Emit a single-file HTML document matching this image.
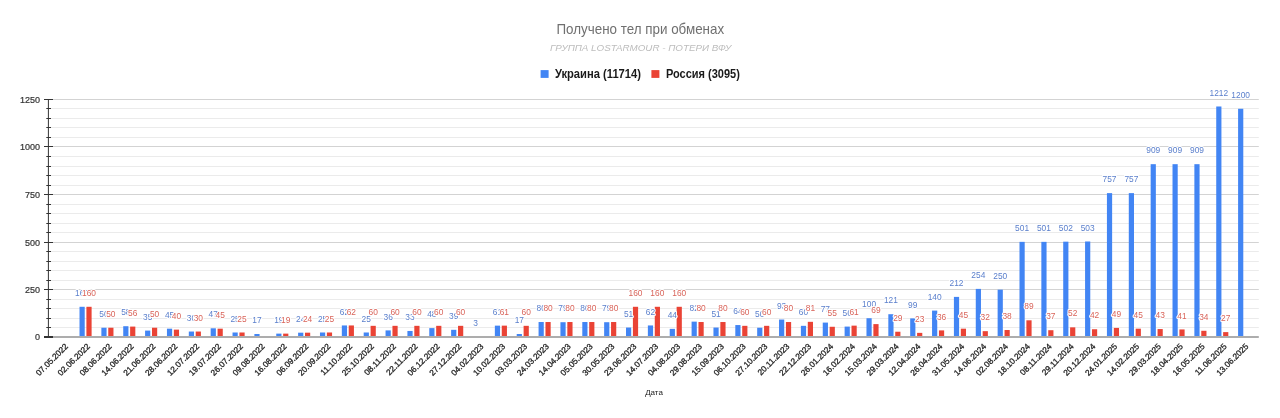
<!DOCTYPE html>
<html><head><meta charset="utf-8"><style>
html,body{margin:0;padding:0;background:#fff;}
body{width:1280px;height:418px;overflow:hidden;}
svg{display:block;will-change:transform;font-family:"Liberation Sans",sans-serif;}
.yl{font-size:9px;fill:#333;stroke:#333;stroke-width:0.2px;}
.xl{font-size:8.3px;fill:#262626;stroke:#262626;stroke-width:0.3px;}
.dl{font-size:8px;stroke:#fff;stroke-width:2px;paint-order:stroke;stroke-linejoin:round;}
</style></head><body>
<svg width="1280" height="418" viewBox="0 0 1280 418">
<rect width="1280" height="418" fill="#fff"/>
<text transform="translate(640.3,33.7) scale(1,1.06)" text-anchor="middle" font-size="13.4" fill="#707070">Получено тел при обменах</text>
<text x="640.6" y="51.2" text-anchor="middle" font-size="9.8" font-style="italic" fill="#bdbdbd">ГРУППА LOSTARMOUR - ПОТЕРИ ВФУ</text>
<rect x="540.6" y="70.1" width="8" height="7.8" fill="#4285f4"/>
<text transform="translate(554.9,77.9) scale(1,1.06)" font-size="11.2" font-weight="bold" fill="#1a1a1a">Украина (11714)</text>
<rect x="651.4" y="70.1" width="8" height="7.8" fill="#ea4335"/>
<text transform="translate(665.9,77.9) scale(0.985,1.06)" font-size="11.2" font-weight="bold" fill="#1a1a1a">Россия (3095)</text>
<text x="654" y="394.7" text-anchor="middle" font-size="8" fill="#222">Дата</text>
<line x1="48.4" x2="1258.8" y1="327.50" y2="327.50" stroke="#ebebeb" stroke-width="1"/>
<line x1="48.4" x2="1258.8" y1="318.50" y2="318.50" stroke="#ebebeb" stroke-width="1"/>
<line x1="48.4" x2="1258.8" y1="308.50" y2="308.50" stroke="#ebebeb" stroke-width="1"/>
<line x1="48.4" x2="1258.8" y1="299.50" y2="299.50" stroke="#ebebeb" stroke-width="1"/>
<line x1="48.4" x2="1258.8" y1="280.50" y2="280.50" stroke="#ebebeb" stroke-width="1"/>
<line x1="48.4" x2="1258.8" y1="270.50" y2="270.50" stroke="#ebebeb" stroke-width="1"/>
<line x1="48.4" x2="1258.8" y1="261.50" y2="261.50" stroke="#ebebeb" stroke-width="1"/>
<line x1="48.4" x2="1258.8" y1="251.50" y2="251.50" stroke="#ebebeb" stroke-width="1"/>
<line x1="48.4" x2="1258.8" y1="232.50" y2="232.50" stroke="#ebebeb" stroke-width="1"/>
<line x1="48.4" x2="1258.8" y1="223.50" y2="223.50" stroke="#ebebeb" stroke-width="1"/>
<line x1="48.4" x2="1258.8" y1="213.50" y2="213.50" stroke="#ebebeb" stroke-width="1"/>
<line x1="48.4" x2="1258.8" y1="204.50" y2="204.50" stroke="#ebebeb" stroke-width="1"/>
<line x1="48.4" x2="1258.8" y1="185.50" y2="185.50" stroke="#ebebeb" stroke-width="1"/>
<line x1="48.4" x2="1258.8" y1="175.50" y2="175.50" stroke="#ebebeb" stroke-width="1"/>
<line x1="48.4" x2="1258.8" y1="166.50" y2="166.50" stroke="#ebebeb" stroke-width="1"/>
<line x1="48.4" x2="1258.8" y1="156.50" y2="156.50" stroke="#ebebeb" stroke-width="1"/>
<line x1="48.4" x2="1258.8" y1="137.50" y2="137.50" stroke="#ebebeb" stroke-width="1"/>
<line x1="48.4" x2="1258.8" y1="127.50" y2="127.50" stroke="#ebebeb" stroke-width="1"/>
<line x1="48.4" x2="1258.8" y1="118.50" y2="118.50" stroke="#ebebeb" stroke-width="1"/>
<line x1="48.4" x2="1258.8" y1="108.50" y2="108.50" stroke="#ebebeb" stroke-width="1"/>
<line x1="48.4" x2="1258.8" y1="289.50" y2="289.50" stroke="#d3d3d3" stroke-width="1"/>
<line x1="48.4" x2="1258.8" y1="242.50" y2="242.50" stroke="#d3d3d3" stroke-width="1"/>
<line x1="48.4" x2="1258.8" y1="194.50" y2="194.50" stroke="#d3d3d3" stroke-width="1"/>
<line x1="48.4" x2="1258.8" y1="146.50" y2="146.50" stroke="#d3d3d3" stroke-width="1"/>
<line x1="48.4" x2="1258.8" y1="99.50" y2="99.50" stroke="#d3d3d3" stroke-width="1"/>
<rect x="79.51" y="306.79" width="5.2" height="30.46" fill="#4285f4"/>
<rect x="86.41" y="306.79" width="5.2" height="30.46" fill="#ea4335"/>
<rect x="101.37" y="327.73" width="5.2" height="9.52" fill="#4285f4"/>
<rect x="108.27" y="327.73" width="5.2" height="9.52" fill="#ea4335"/>
<rect x="123.23" y="326.21" width="5.2" height="11.04" fill="#4285f4"/>
<rect x="130.13" y="326.59" width="5.2" height="10.66" fill="#ea4335"/>
<rect x="145.09" y="330.59" width="5.2" height="6.66" fill="#4285f4"/>
<rect x="151.99" y="327.73" width="5.2" height="9.52" fill="#ea4335"/>
<rect x="166.95" y="328.68" width="5.2" height="8.57" fill="#4285f4"/>
<rect x="173.85" y="329.63" width="5.2" height="7.62" fill="#ea4335"/>
<rect x="188.81" y="331.54" width="5.2" height="5.71" fill="#4285f4"/>
<rect x="195.71" y="331.54" width="5.2" height="5.71" fill="#ea4335"/>
<rect x="210.67" y="328.30" width="5.2" height="8.95" fill="#4285f4"/>
<rect x="217.57" y="328.68" width="5.2" height="8.57" fill="#ea4335"/>
<rect x="232.53" y="332.49" width="5.2" height="4.76" fill="#4285f4"/>
<rect x="239.43" y="332.49" width="5.2" height="4.76" fill="#ea4335"/>
<rect x="254.39" y="334.01" width="5.2" height="3.24" fill="#4285f4"/>
<rect x="276.25" y="333.63" width="5.2" height="3.62" fill="#4285f4"/>
<rect x="283.15" y="333.63" width="5.2" height="3.62" fill="#ea4335"/>
<rect x="298.11" y="332.68" width="5.2" height="4.57" fill="#4285f4"/>
<rect x="305.01" y="332.68" width="5.2" height="4.57" fill="#ea4335"/>
<rect x="319.97" y="332.49" width="5.2" height="4.76" fill="#4285f4"/>
<rect x="326.87" y="332.49" width="5.2" height="4.76" fill="#ea4335"/>
<rect x="341.83" y="325.45" width="5.2" height="11.80" fill="#4285f4"/>
<rect x="348.73" y="325.45" width="5.2" height="11.80" fill="#ea4335"/>
<rect x="363.69" y="332.49" width="5.2" height="4.76" fill="#4285f4"/>
<rect x="370.59" y="325.83" width="5.2" height="11.42" fill="#ea4335"/>
<rect x="385.55" y="330.40" width="5.2" height="6.85" fill="#4285f4"/>
<rect x="392.45" y="325.83" width="5.2" height="11.42" fill="#ea4335"/>
<rect x="407.41" y="330.97" width="5.2" height="6.28" fill="#4285f4"/>
<rect x="414.31" y="325.83" width="5.2" height="11.42" fill="#ea4335"/>
<rect x="429.27" y="328.11" width="5.2" height="9.14" fill="#4285f4"/>
<rect x="436.17" y="325.83" width="5.2" height="11.42" fill="#ea4335"/>
<rect x="451.13" y="329.82" width="5.2" height="7.43" fill="#4285f4"/>
<rect x="458.03" y="325.83" width="5.2" height="11.42" fill="#ea4335"/>
<rect x="472.99" y="336.68" width="5.2" height="0.57" fill="#4285f4"/>
<rect x="494.85" y="325.64" width="5.2" height="11.61" fill="#4285f4"/>
<rect x="501.75" y="325.64" width="5.2" height="11.61" fill="#ea4335"/>
<rect x="516.71" y="334.01" width="5.2" height="3.24" fill="#4285f4"/>
<rect x="523.61" y="325.83" width="5.2" height="11.42" fill="#ea4335"/>
<rect x="538.57" y="322.02" width="5.2" height="15.23" fill="#4285f4"/>
<rect x="545.47" y="322.02" width="5.2" height="15.23" fill="#ea4335"/>
<rect x="560.43" y="322.21" width="5.2" height="15.04" fill="#4285f4"/>
<rect x="567.33" y="322.02" width="5.2" height="15.23" fill="#ea4335"/>
<rect x="582.29" y="322.02" width="5.2" height="15.23" fill="#4285f4"/>
<rect x="589.19" y="322.02" width="5.2" height="15.23" fill="#ea4335"/>
<rect x="604.15" y="322.21" width="5.2" height="15.04" fill="#4285f4"/>
<rect x="611.05" y="322.02" width="5.2" height="15.23" fill="#ea4335"/>
<rect x="626.01" y="327.54" width="5.2" height="9.71" fill="#4285f4"/>
<rect x="632.91" y="306.79" width="5.2" height="30.46" fill="#ea4335"/>
<rect x="647.87" y="325.45" width="5.2" height="11.80" fill="#4285f4"/>
<rect x="654.77" y="306.79" width="5.2" height="30.46" fill="#ea4335"/>
<rect x="669.73" y="328.87" width="5.2" height="8.38" fill="#4285f4"/>
<rect x="676.63" y="306.79" width="5.2" height="30.46" fill="#ea4335"/>
<rect x="691.59" y="321.64" width="5.2" height="15.61" fill="#4285f4"/>
<rect x="698.49" y="322.02" width="5.2" height="15.23" fill="#ea4335"/>
<rect x="713.45" y="327.54" width="5.2" height="9.71" fill="#4285f4"/>
<rect x="720.35" y="322.02" width="5.2" height="15.23" fill="#ea4335"/>
<rect x="735.31" y="325.06" width="5.2" height="12.19" fill="#4285f4"/>
<rect x="742.21" y="325.83" width="5.2" height="11.42" fill="#ea4335"/>
<rect x="757.17" y="327.73" width="5.2" height="9.52" fill="#4285f4"/>
<rect x="764.07" y="325.83" width="5.2" height="11.42" fill="#ea4335"/>
<rect x="779.03" y="319.54" width="5.2" height="17.71" fill="#4285f4"/>
<rect x="785.93" y="322.02" width="5.2" height="15.23" fill="#ea4335"/>
<rect x="800.89" y="325.83" width="5.2" height="11.42" fill="#4285f4"/>
<rect x="807.79" y="321.83" width="5.2" height="15.42" fill="#ea4335"/>
<rect x="822.75" y="322.59" width="5.2" height="14.66" fill="#4285f4"/>
<rect x="829.65" y="326.78" width="5.2" height="10.47" fill="#ea4335"/>
<rect x="844.61" y="326.59" width="5.2" height="10.66" fill="#4285f4"/>
<rect x="851.51" y="325.64" width="5.2" height="11.61" fill="#ea4335"/>
<rect x="866.47" y="318.21" width="5.2" height="19.04" fill="#4285f4"/>
<rect x="873.37" y="324.11" width="5.2" height="13.14" fill="#ea4335"/>
<rect x="888.33" y="314.21" width="5.2" height="23.04" fill="#4285f4"/>
<rect x="895.23" y="331.73" width="5.2" height="5.52" fill="#ea4335"/>
<rect x="910.19" y="318.40" width="5.2" height="18.85" fill="#4285f4"/>
<rect x="917.09" y="332.87" width="5.2" height="4.38" fill="#ea4335"/>
<rect x="932.05" y="310.59" width="5.2" height="26.66" fill="#4285f4"/>
<rect x="938.95" y="330.40" width="5.2" height="6.85" fill="#ea4335"/>
<rect x="953.91" y="296.89" width="5.2" height="40.36" fill="#4285f4"/>
<rect x="960.81" y="328.68" width="5.2" height="8.57" fill="#ea4335"/>
<rect x="975.77" y="288.89" width="5.2" height="48.36" fill="#4285f4"/>
<rect x="982.67" y="331.16" width="5.2" height="6.09" fill="#ea4335"/>
<rect x="997.63" y="289.65" width="5.2" height="47.60" fill="#4285f4"/>
<rect x="1004.53" y="330.01" width="5.2" height="7.24" fill="#ea4335"/>
<rect x="1019.49" y="241.86" width="5.2" height="95.39" fill="#4285f4"/>
<rect x="1026.39" y="320.30" width="5.2" height="16.95" fill="#ea4335"/>
<rect x="1041.35" y="241.86" width="5.2" height="95.39" fill="#4285f4"/>
<rect x="1048.25" y="330.21" width="5.2" height="7.04" fill="#ea4335"/>
<rect x="1063.21" y="241.67" width="5.2" height="95.58" fill="#4285f4"/>
<rect x="1070.11" y="327.35" width="5.2" height="9.90" fill="#ea4335"/>
<rect x="1085.07" y="241.48" width="5.2" height="95.77" fill="#4285f4"/>
<rect x="1091.97" y="329.25" width="5.2" height="8.00" fill="#ea4335"/>
<rect x="1106.93" y="193.12" width="5.2" height="144.13" fill="#4285f4"/>
<rect x="1113.83" y="327.92" width="5.2" height="9.33" fill="#ea4335"/>
<rect x="1128.79" y="193.12" width="5.2" height="144.13" fill="#4285f4"/>
<rect x="1135.69" y="328.68" width="5.2" height="8.57" fill="#ea4335"/>
<rect x="1150.65" y="164.18" width="5.2" height="173.07" fill="#4285f4"/>
<rect x="1157.55" y="329.06" width="5.2" height="8.19" fill="#ea4335"/>
<rect x="1172.51" y="164.18" width="5.2" height="173.07" fill="#4285f4"/>
<rect x="1179.41" y="329.44" width="5.2" height="7.81" fill="#ea4335"/>
<rect x="1194.37" y="164.18" width="5.2" height="173.07" fill="#4285f4"/>
<rect x="1201.27" y="330.78" width="5.2" height="6.47" fill="#ea4335"/>
<rect x="1216.23" y="106.49" width="5.2" height="230.76" fill="#4285f4"/>
<rect x="1223.13" y="332.11" width="5.2" height="5.14" fill="#ea4335"/>
<rect x="1238.09" y="108.77" width="5.2" height="228.48" fill="#4285f4"/>
<line x1="44" x2="1258.8" y1="337" y2="337" stroke="#adadad" stroke-width="2"/>
<line x1="48.4" x2="48.4" y1="99.0" y2="337" stroke="#333" stroke-width="1"/>
<line x1="44" x2="53" y1="337.0" y2="337.0" stroke="#333" stroke-width="2"/>
<text x="40" y="340.30" text-anchor="end" class="yl">0</text>
<line x1="46.3" x2="51" y1="327.5" y2="327.5" stroke="#333" stroke-width="1"/>
<line x1="46.3" x2="51" y1="318.5" y2="318.5" stroke="#333" stroke-width="1"/>
<line x1="46.3" x2="51" y1="308.5" y2="308.5" stroke="#333" stroke-width="1"/>
<line x1="46.3" x2="51" y1="299.5" y2="299.5" stroke="#333" stroke-width="1"/>
<line x1="44" x2="53" y1="289.5" y2="289.5" stroke="#333" stroke-width="1"/>
<text x="40" y="292.80" text-anchor="end" class="yl">250</text>
<line x1="46.3" x2="51" y1="280.5" y2="280.5" stroke="#333" stroke-width="1"/>
<line x1="46.3" x2="51" y1="270.5" y2="270.5" stroke="#333" stroke-width="1"/>
<line x1="46.3" x2="51" y1="261.5" y2="261.5" stroke="#333" stroke-width="1"/>
<line x1="46.3" x2="51" y1="251.5" y2="251.5" stroke="#333" stroke-width="1"/>
<line x1="44" x2="53" y1="242.5" y2="242.5" stroke="#333" stroke-width="1"/>
<text x="40" y="245.80" text-anchor="end" class="yl">500</text>
<line x1="46.3" x2="51" y1="232.5" y2="232.5" stroke="#333" stroke-width="1"/>
<line x1="46.3" x2="51" y1="223.5" y2="223.5" stroke="#333" stroke-width="1"/>
<line x1="46.3" x2="51" y1="213.5" y2="213.5" stroke="#333" stroke-width="1"/>
<line x1="46.3" x2="51" y1="204.5" y2="204.5" stroke="#333" stroke-width="1"/>
<line x1="44" x2="53" y1="194.5" y2="194.5" stroke="#333" stroke-width="1"/>
<text x="40" y="197.80" text-anchor="end" class="yl">750</text>
<line x1="46.3" x2="51" y1="185.5" y2="185.5" stroke="#333" stroke-width="1"/>
<line x1="46.3" x2="51" y1="175.5" y2="175.5" stroke="#333" stroke-width="1"/>
<line x1="46.3" x2="51" y1="166.5" y2="166.5" stroke="#333" stroke-width="1"/>
<line x1="46.3" x2="51" y1="156.5" y2="156.5" stroke="#333" stroke-width="1"/>
<line x1="44" x2="53" y1="146.5" y2="146.5" stroke="#333" stroke-width="1"/>
<text x="40" y="149.80" text-anchor="end" class="yl">1000</text>
<line x1="46.3" x2="51" y1="137.5" y2="137.5" stroke="#333" stroke-width="1"/>
<line x1="46.3" x2="51" y1="127.5" y2="127.5" stroke="#333" stroke-width="1"/>
<line x1="46.3" x2="51" y1="118.5" y2="118.5" stroke="#333" stroke-width="1"/>
<line x1="46.3" x2="51" y1="108.5" y2="108.5" stroke="#333" stroke-width="1"/>
<line x1="44" x2="53" y1="99.5" y2="99.5" stroke="#333" stroke-width="1"/>
<text x="40" y="102.80" text-anchor="end" class="yl">1250</text>
<text transform="translate(82.11,295.89) scale(1.05,1.12)" text-anchor="middle" class="dl" fill="#5a7fcc">160</text>
<text transform="translate(89.01,295.89) scale(1.05,1.12)" text-anchor="middle" class="dl" fill="#d9645a">160</text>
<text transform="translate(103.97,316.83) scale(1.05,1.12)" text-anchor="middle" class="dl" fill="#5a7fcc">50</text>
<text transform="translate(110.87,316.83) scale(1.05,1.12)" text-anchor="middle" class="dl" fill="#d9645a">50</text>
<text transform="translate(125.83,315.31) scale(1.05,1.12)" text-anchor="middle" class="dl" fill="#5a7fcc">58</text>
<text transform="translate(132.73,315.69) scale(1.05,1.12)" text-anchor="middle" class="dl" fill="#d9645a">56</text>
<text transform="translate(147.69,319.69) scale(1.05,1.12)" text-anchor="middle" class="dl" fill="#5a7fcc">35</text>
<text transform="translate(154.59,316.83) scale(1.05,1.12)" text-anchor="middle" class="dl" fill="#d9645a">50</text>
<text transform="translate(169.55,317.78) scale(1.05,1.12)" text-anchor="middle" class="dl" fill="#5a7fcc">45</text>
<text transform="translate(176.45,318.73) scale(1.05,1.12)" text-anchor="middle" class="dl" fill="#d9645a">40</text>
<text transform="translate(191.41,320.64) scale(1.05,1.12)" text-anchor="middle" class="dl" fill="#5a7fcc">30</text>
<text transform="translate(198.31,320.64) scale(1.05,1.12)" text-anchor="middle" class="dl" fill="#d9645a">30</text>
<text transform="translate(213.27,317.40) scale(1.05,1.12)" text-anchor="middle" class="dl" fill="#5a7fcc">47</text>
<text transform="translate(220.17,317.78) scale(1.05,1.12)" text-anchor="middle" class="dl" fill="#d9645a">45</text>
<text transform="translate(235.13,321.59) scale(1.05,1.12)" text-anchor="middle" class="dl" fill="#5a7fcc">25</text>
<text transform="translate(242.03,321.59) scale(1.05,1.12)" text-anchor="middle" class="dl" fill="#d9645a">25</text>
<text transform="translate(256.99,323.11) scale(1.05,1.12)" text-anchor="middle" class="dl" fill="#5a7fcc">17</text>
<text transform="translate(278.85,322.73) scale(1.05,1.12)" text-anchor="middle" class="dl" fill="#5a7fcc">19</text>
<text transform="translate(285.75,322.73) scale(1.05,1.12)" text-anchor="middle" class="dl" fill="#d9645a">19</text>
<text transform="translate(300.71,321.78) scale(1.05,1.12)" text-anchor="middle" class="dl" fill="#5a7fcc">24</text>
<text transform="translate(307.61,321.78) scale(1.05,1.12)" text-anchor="middle" class="dl" fill="#d9645a">24</text>
<text transform="translate(322.57,321.59) scale(1.05,1.12)" text-anchor="middle" class="dl" fill="#5a7fcc">25</text>
<text transform="translate(329.47,321.59) scale(1.05,1.12)" text-anchor="middle" class="dl" fill="#d9645a">25</text>
<text transform="translate(344.43,314.55) scale(1.05,1.12)" text-anchor="middle" class="dl" fill="#5a7fcc">62</text>
<text transform="translate(351.33,314.55) scale(1.05,1.12)" text-anchor="middle" class="dl" fill="#d9645a">62</text>
<text transform="translate(366.29,321.59) scale(1.05,1.12)" text-anchor="middle" class="dl" fill="#5a7fcc">25</text>
<text transform="translate(373.19,314.93) scale(1.05,1.12)" text-anchor="middle" class="dl" fill="#d9645a">60</text>
<text transform="translate(388.15,319.50) scale(1.05,1.12)" text-anchor="middle" class="dl" fill="#5a7fcc">36</text>
<text transform="translate(395.05,314.93) scale(1.05,1.12)" text-anchor="middle" class="dl" fill="#d9645a">60</text>
<text transform="translate(410.01,320.07) scale(1.05,1.12)" text-anchor="middle" class="dl" fill="#5a7fcc">33</text>
<text transform="translate(416.91,314.93) scale(1.05,1.12)" text-anchor="middle" class="dl" fill="#d9645a">60</text>
<text transform="translate(431.87,317.21) scale(1.05,1.12)" text-anchor="middle" class="dl" fill="#5a7fcc">48</text>
<text transform="translate(438.77,314.93) scale(1.05,1.12)" text-anchor="middle" class="dl" fill="#d9645a">60</text>
<text transform="translate(453.73,318.92) scale(1.05,1.12)" text-anchor="middle" class="dl" fill="#5a7fcc">39</text>
<text transform="translate(460.63,314.93) scale(1.05,1.12)" text-anchor="middle" class="dl" fill="#d9645a">60</text>
<text transform="translate(475.59,325.78) scale(1.05,1.12)" text-anchor="middle" class="dl" fill="#5a7fcc">3</text>
<text transform="translate(497.45,314.74) scale(1.05,1.12)" text-anchor="middle" class="dl" fill="#5a7fcc">61</text>
<text transform="translate(504.35,314.74) scale(1.05,1.12)" text-anchor="middle" class="dl" fill="#d9645a">61</text>
<text transform="translate(519.31,323.11) scale(1.05,1.12)" text-anchor="middle" class="dl" fill="#5a7fcc">17</text>
<text transform="translate(526.21,314.93) scale(1.05,1.12)" text-anchor="middle" class="dl" fill="#d9645a">60</text>
<text transform="translate(541.17,311.12) scale(1.05,1.12)" text-anchor="middle" class="dl" fill="#5a7fcc">80</text>
<text transform="translate(548.07,311.12) scale(1.05,1.12)" text-anchor="middle" class="dl" fill="#d9645a">80</text>
<text transform="translate(563.03,311.31) scale(1.05,1.12)" text-anchor="middle" class="dl" fill="#5a7fcc">79</text>
<text transform="translate(569.93,311.12) scale(1.05,1.12)" text-anchor="middle" class="dl" fill="#d9645a">80</text>
<text transform="translate(584.89,311.12) scale(1.05,1.12)" text-anchor="middle" class="dl" fill="#5a7fcc">80</text>
<text transform="translate(591.79,311.12) scale(1.05,1.12)" text-anchor="middle" class="dl" fill="#d9645a">80</text>
<text transform="translate(606.75,311.31) scale(1.05,1.12)" text-anchor="middle" class="dl" fill="#5a7fcc">79</text>
<text transform="translate(613.65,311.12) scale(1.05,1.12)" text-anchor="middle" class="dl" fill="#d9645a">80</text>
<text transform="translate(628.61,316.64) scale(1.05,1.12)" text-anchor="middle" class="dl" fill="#5a7fcc">51</text>
<text transform="translate(635.51,295.89) scale(1.05,1.12)" text-anchor="middle" class="dl" fill="#d9645a">160</text>
<text transform="translate(650.47,314.55) scale(1.05,1.12)" text-anchor="middle" class="dl" fill="#5a7fcc">62</text>
<text transform="translate(657.37,295.89) scale(1.05,1.12)" text-anchor="middle" class="dl" fill="#d9645a">160</text>
<text transform="translate(672.33,317.97) scale(1.05,1.12)" text-anchor="middle" class="dl" fill="#5a7fcc">44</text>
<text transform="translate(679.23,295.89) scale(1.05,1.12)" text-anchor="middle" class="dl" fill="#d9645a">160</text>
<text transform="translate(694.19,310.74) scale(1.05,1.12)" text-anchor="middle" class="dl" fill="#5a7fcc">82</text>
<text transform="translate(701.09,311.12) scale(1.05,1.12)" text-anchor="middle" class="dl" fill="#d9645a">80</text>
<text transform="translate(716.05,316.64) scale(1.05,1.12)" text-anchor="middle" class="dl" fill="#5a7fcc">51</text>
<text transform="translate(722.95,311.12) scale(1.05,1.12)" text-anchor="middle" class="dl" fill="#d9645a">80</text>
<text transform="translate(737.91,314.16) scale(1.05,1.12)" text-anchor="middle" class="dl" fill="#5a7fcc">64</text>
<text transform="translate(744.81,314.93) scale(1.05,1.12)" text-anchor="middle" class="dl" fill="#d9645a">60</text>
<text transform="translate(759.77,316.83) scale(1.05,1.12)" text-anchor="middle" class="dl" fill="#5a7fcc">50</text>
<text transform="translate(766.67,314.93) scale(1.05,1.12)" text-anchor="middle" class="dl" fill="#d9645a">60</text>
<text transform="translate(781.63,308.64) scale(1.05,1.12)" text-anchor="middle" class="dl" fill="#5a7fcc">93</text>
<text transform="translate(788.53,311.12) scale(1.05,1.12)" text-anchor="middle" class="dl" fill="#d9645a">80</text>
<text transform="translate(803.49,314.93) scale(1.05,1.12)" text-anchor="middle" class="dl" fill="#5a7fcc">60</text>
<text transform="translate(810.39,310.93) scale(1.05,1.12)" text-anchor="middle" class="dl" fill="#d9645a">81</text>
<text transform="translate(825.35,311.69) scale(1.05,1.12)" text-anchor="middle" class="dl" fill="#5a7fcc">77</text>
<text transform="translate(832.25,315.88) scale(1.05,1.12)" text-anchor="middle" class="dl" fill="#d9645a">55</text>
<text transform="translate(847.21,315.69) scale(1.05,1.12)" text-anchor="middle" class="dl" fill="#5a7fcc">56</text>
<text transform="translate(854.11,314.74) scale(1.05,1.12)" text-anchor="middle" class="dl" fill="#d9645a">61</text>
<text transform="translate(869.07,307.31) scale(1.05,1.12)" text-anchor="middle" class="dl" fill="#5a7fcc">100</text>
<text transform="translate(875.97,313.21) scale(1.05,1.12)" text-anchor="middle" class="dl" fill="#d9645a">69</text>
<text transform="translate(890.93,303.31) scale(1.05,1.12)" text-anchor="middle" class="dl" fill="#5a7fcc">121</text>
<text transform="translate(897.83,320.83) scale(1.05,1.12)" text-anchor="middle" class="dl" fill="#d9645a">29</text>
<text transform="translate(912.79,307.50) scale(1.05,1.12)" text-anchor="middle" class="dl" fill="#5a7fcc">99</text>
<text transform="translate(919.69,321.97) scale(1.05,1.12)" text-anchor="middle" class="dl" fill="#d9645a">23</text>
<text transform="translate(934.65,299.69) scale(1.05,1.12)" text-anchor="middle" class="dl" fill="#5a7fcc">140</text>
<text transform="translate(941.55,319.50) scale(1.05,1.12)" text-anchor="middle" class="dl" fill="#d9645a">36</text>
<text transform="translate(956.51,285.99) scale(1.05,1.12)" text-anchor="middle" class="dl" fill="#5a7fcc">212</text>
<text transform="translate(963.41,317.78) scale(1.05,1.12)" text-anchor="middle" class="dl" fill="#d9645a">45</text>
<text transform="translate(978.37,277.99) scale(1.05,1.12)" text-anchor="middle" class="dl" fill="#5a7fcc">254</text>
<text transform="translate(985.27,320.26) scale(1.05,1.12)" text-anchor="middle" class="dl" fill="#d9645a">32</text>
<text transform="translate(1000.23,278.75) scale(1.05,1.12)" text-anchor="middle" class="dl" fill="#5a7fcc">250</text>
<text transform="translate(1007.13,319.11) scale(1.05,1.12)" text-anchor="middle" class="dl" fill="#d9645a">38</text>
<text transform="translate(1022.09,230.96) scale(1.05,1.12)" text-anchor="middle" class="dl" fill="#5a7fcc">501</text>
<text transform="translate(1028.99,309.40) scale(1.05,1.12)" text-anchor="middle" class="dl" fill="#d9645a">89</text>
<text transform="translate(1043.95,230.96) scale(1.05,1.12)" text-anchor="middle" class="dl" fill="#5a7fcc">501</text>
<text transform="translate(1050.85,319.31) scale(1.05,1.12)" text-anchor="middle" class="dl" fill="#d9645a">37</text>
<text transform="translate(1065.81,230.77) scale(1.05,1.12)" text-anchor="middle" class="dl" fill="#5a7fcc">502</text>
<text transform="translate(1072.71,316.45) scale(1.05,1.12)" text-anchor="middle" class="dl" fill="#d9645a">52</text>
<text transform="translate(1087.67,230.58) scale(1.05,1.12)" text-anchor="middle" class="dl" fill="#5a7fcc">503</text>
<text transform="translate(1094.57,318.35) scale(1.05,1.12)" text-anchor="middle" class="dl" fill="#d9645a">42</text>
<text transform="translate(1109.53,182.22) scale(1.05,1.12)" text-anchor="middle" class="dl" fill="#5a7fcc">757</text>
<text transform="translate(1116.43,317.02) scale(1.05,1.12)" text-anchor="middle" class="dl" fill="#d9645a">49</text>
<text transform="translate(1131.39,182.22) scale(1.05,1.12)" text-anchor="middle" class="dl" fill="#5a7fcc">757</text>
<text transform="translate(1138.29,317.78) scale(1.05,1.12)" text-anchor="middle" class="dl" fill="#d9645a">45</text>
<text transform="translate(1153.25,153.28) scale(1.05,1.12)" text-anchor="middle" class="dl" fill="#5a7fcc">909</text>
<text transform="translate(1160.15,318.16) scale(1.05,1.12)" text-anchor="middle" class="dl" fill="#d9645a">43</text>
<text transform="translate(1175.11,153.28) scale(1.05,1.12)" text-anchor="middle" class="dl" fill="#5a7fcc">909</text>
<text transform="translate(1182.01,318.54) scale(1.05,1.12)" text-anchor="middle" class="dl" fill="#d9645a">41</text>
<text transform="translate(1196.97,153.28) scale(1.05,1.12)" text-anchor="middle" class="dl" fill="#5a7fcc">909</text>
<text transform="translate(1203.87,319.88) scale(1.05,1.12)" text-anchor="middle" class="dl" fill="#d9645a">34</text>
<text transform="translate(1218.83,95.59) scale(1.05,1.12)" text-anchor="middle" class="dl" fill="#5a7fcc">1212</text>
<text transform="translate(1225.73,321.21) scale(1.05,1.12)" text-anchor="middle" class="dl" fill="#d9645a">27</text>
<text transform="translate(1240.69,97.87) scale(1.05,1.12)" text-anchor="middle" class="dl" fill="#5a7fcc">1200</text>
<text transform="translate(68.60,346.9) rotate(-45)" text-anchor="end" class="xl">07.05.2022</text>
<text transform="translate(90.46,346.9) rotate(-45)" text-anchor="end" class="xl">02.06.2022</text>
<text transform="translate(112.32,346.9) rotate(-45)" text-anchor="end" class="xl">08.06.2022</text>
<text transform="translate(134.18,346.9) rotate(-45)" text-anchor="end" class="xl">14.06.2022</text>
<text transform="translate(156.04,346.9) rotate(-45)" text-anchor="end" class="xl">21.06.2022</text>
<text transform="translate(177.90,346.9) rotate(-45)" text-anchor="end" class="xl">28.06.2022</text>
<text transform="translate(199.76,346.9) rotate(-45)" text-anchor="end" class="xl">12.07.2022</text>
<text transform="translate(221.62,346.9) rotate(-45)" text-anchor="end" class="xl">19.07.2022</text>
<text transform="translate(243.48,346.9) rotate(-45)" text-anchor="end" class="xl">26.07.2022</text>
<text transform="translate(265.34,346.9) rotate(-45)" text-anchor="end" class="xl">09.08.2022</text>
<text transform="translate(287.20,346.9) rotate(-45)" text-anchor="end" class="xl">16.08.2022</text>
<text transform="translate(309.06,346.9) rotate(-45)" text-anchor="end" class="xl">06.09.2022</text>
<text transform="translate(330.92,346.9) rotate(-45)" text-anchor="end" class="xl">20.09.2022</text>
<text transform="translate(352.78,346.9) rotate(-45)" text-anchor="end" class="xl">11.10.2022</text>
<text transform="translate(374.64,346.9) rotate(-45)" text-anchor="end" class="xl">25.10.2022</text>
<text transform="translate(396.50,346.9) rotate(-45)" text-anchor="end" class="xl">08.11.2022</text>
<text transform="translate(418.36,346.9) rotate(-45)" text-anchor="end" class="xl">22.11.2022</text>
<text transform="translate(440.22,346.9) rotate(-45)" text-anchor="end" class="xl">06.12.2022</text>
<text transform="translate(462.08,346.9) rotate(-45)" text-anchor="end" class="xl">27.12.2022</text>
<text transform="translate(483.94,346.9) rotate(-45)" text-anchor="end" class="xl">04.02.2023</text>
<text transform="translate(505.80,346.9) rotate(-45)" text-anchor="end" class="xl">10.02.2023</text>
<text transform="translate(527.66,346.9) rotate(-45)" text-anchor="end" class="xl">03.03.2023</text>
<text transform="translate(549.52,346.9) rotate(-45)" text-anchor="end" class="xl">24.03.2023</text>
<text transform="translate(571.38,346.9) rotate(-45)" text-anchor="end" class="xl">14.04.2023</text>
<text transform="translate(593.24,346.9) rotate(-45)" text-anchor="end" class="xl">05.05.2023</text>
<text transform="translate(615.10,346.9) rotate(-45)" text-anchor="end" class="xl">30.05.2023</text>
<text transform="translate(636.96,346.9) rotate(-45)" text-anchor="end" class="xl">23.06.2023</text>
<text transform="translate(658.82,346.9) rotate(-45)" text-anchor="end" class="xl">14.07.2023</text>
<text transform="translate(680.68,346.9) rotate(-45)" text-anchor="end" class="xl">04.08.2023</text>
<text transform="translate(702.54,346.9) rotate(-45)" text-anchor="end" class="xl">29.08.2023</text>
<text transform="translate(724.40,346.9) rotate(-45)" text-anchor="end" class="xl">15.09.2023</text>
<text transform="translate(746.26,346.9) rotate(-45)" text-anchor="end" class="xl">06.10.2023</text>
<text transform="translate(768.12,346.9) rotate(-45)" text-anchor="end" class="xl">27.10.2023</text>
<text transform="translate(789.98,346.9) rotate(-45)" text-anchor="end" class="xl">20.11.2023</text>
<text transform="translate(811.84,346.9) rotate(-45)" text-anchor="end" class="xl">22.12.2023</text>
<text transform="translate(833.70,346.9) rotate(-45)" text-anchor="end" class="xl">26.01.2024</text>
<text transform="translate(855.56,346.9) rotate(-45)" text-anchor="end" class="xl">16.02.2024</text>
<text transform="translate(877.42,346.9) rotate(-45)" text-anchor="end" class="xl">15.03.2024</text>
<text transform="translate(899.28,346.9) rotate(-45)" text-anchor="end" class="xl">29.03.2024</text>
<text transform="translate(921.14,346.9) rotate(-45)" text-anchor="end" class="xl">12.04.2024</text>
<text transform="translate(943.00,346.9) rotate(-45)" text-anchor="end" class="xl">26.04.2024</text>
<text transform="translate(964.86,346.9) rotate(-45)" text-anchor="end" class="xl">31.05.2024</text>
<text transform="translate(986.72,346.9) rotate(-45)" text-anchor="end" class="xl">14.06.2024</text>
<text transform="translate(1008.58,346.9) rotate(-45)" text-anchor="end" class="xl">02.08.2024</text>
<text transform="translate(1030.44,346.9) rotate(-45)" text-anchor="end" class="xl">18.10.2024</text>
<text transform="translate(1052.30,346.9) rotate(-45)" text-anchor="end" class="xl">08.11.2024</text>
<text transform="translate(1074.16,346.9) rotate(-45)" text-anchor="end" class="xl">29.11.2024</text>
<text transform="translate(1096.02,346.9) rotate(-45)" text-anchor="end" class="xl">20.12.2024</text>
<text transform="translate(1117.88,346.9) rotate(-45)" text-anchor="end" class="xl">24.01.2025</text>
<text transform="translate(1139.74,346.9) rotate(-45)" text-anchor="end" class="xl">14.02.2025</text>
<text transform="translate(1161.60,346.9) rotate(-45)" text-anchor="end" class="xl">29.03.2025</text>
<text transform="translate(1183.46,346.9) rotate(-45)" text-anchor="end" class="xl">18.04.2025</text>
<text transform="translate(1205.32,346.9) rotate(-45)" text-anchor="end" class="xl">16.05.2025</text>
<text transform="translate(1227.18,346.9) rotate(-45)" text-anchor="end" class="xl">11.06.2025</text>
<text transform="translate(1249.04,346.9) rotate(-45)" text-anchor="end" class="xl">13.06.2025</text>
</svg>
</body></html>
